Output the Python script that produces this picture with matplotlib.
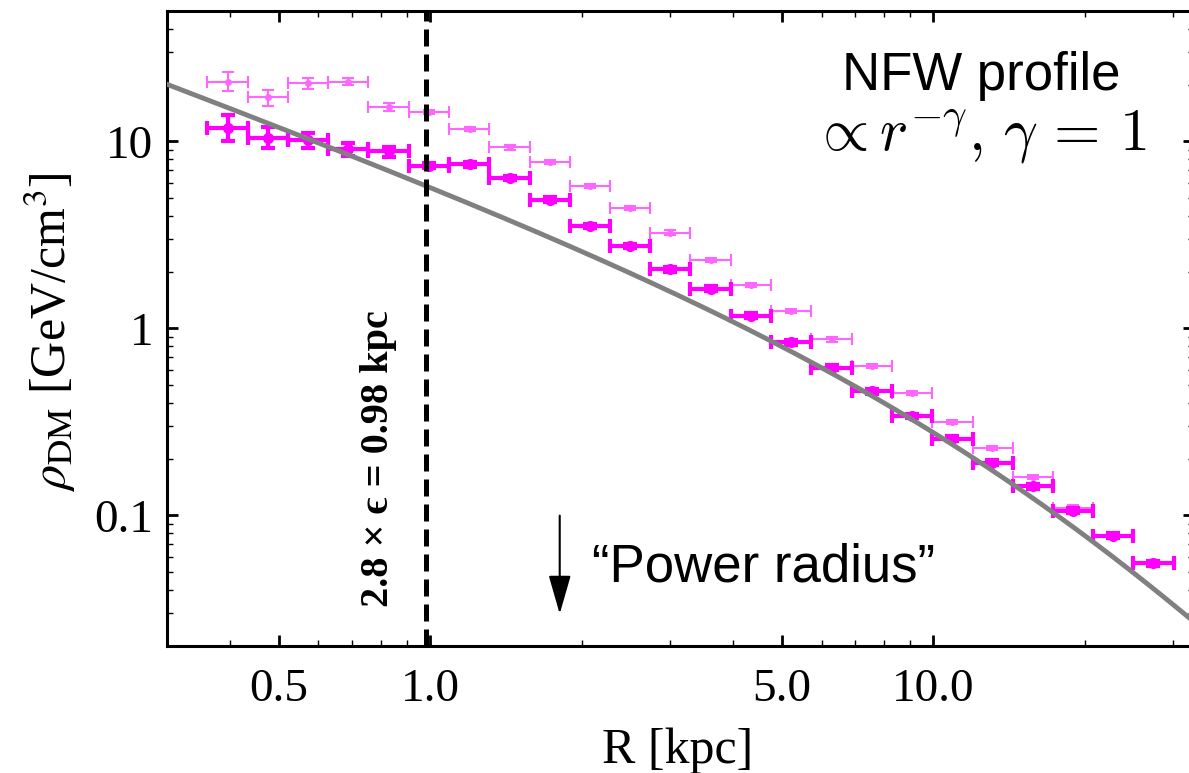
import numpy as np
import matplotlib
matplotlib.use("Agg")
import matplotlib.pyplot as plt
from matplotlib.ticker import FixedLocator, FixedFormatter, LogLocator, NullFormatter

# Radial bins [kpc]: edges shared by both density profiles, and bin centres
bin_edges = [0.361, 0.434, 0.522, 0.627, 0.754, 0.907, 1.09, 1.31, 1.58, 1.90,
             2.28, 2.74, 3.29, 3.96, 4.76, 5.73, 6.89, 8.28, 9.95, 12.0,
             14.4, 17.3, 20.8, 25.0, 30.1]
r_centers = [0.396, 0.476, 0.572, 0.688, 0.827, 0.994, 1.20, 1.44, 1.73, 2.08,
             2.50, 3.00, 3.61, 4.34, 5.22, 6.28, 7.55, 9.08, 10.9, 13.1,
             15.8, 19.0, 22.8, 27.4]

# Main density profile [GeV/cm^3] with lower / upper errors
rho_main = [11.8, 10.4, 10.2, 9.10, 8.84, 7.41, 7.55, 6.37, 4.87, 3.53,
            2.76, 2.07, 1.63, 1.17, 0.840, 0.617, 0.461, 0.340, 0.257, 0.191,
            0.143, 0.106, 0.0778, 0.0553]
rho_main_err_lo = [1.7, 1.18, 0.95, 0.72, 0.56, 0.22, 0.22, 0.19, 0.14, 0.10,
                   0.08, 0.06, 0.05, 0.035, 0.025, 0.018, 0.014, 0.010, 0.008, 0.006,
                   0.004, 0.003, 0.0023, 0.0017]
rho_main_err_hi = [2.1, 1.5, 0.9, 0.74, 0.53, 0.22, 0.22, 0.19, 0.14, 0.10,
                   0.08, 0.06, 0.05, 0.035, 0.025, 0.018, 0.014, 0.010, 0.008, 0.006,
                   0.004, 0.003, 0.0023, 0.0017]

# Second (lighter) density profile over the first 22 bins
rho_alt = [20.7, 17.2, 20.4, 20.8, 15.3, 14.4, 11.7, 9.29, 7.75, 5.79,
           4.40, 3.25, 2.32, 1.70, 1.24, 0.872, 0.630, 0.451, 0.315, 0.230,
           0.160, 0.110]
rho_alt_err_lo = [2.2, 1.8, 1.3, 0.9, 0.8, 0.4, 0.3, 0.25, 0.2, 0.15,
                  0.12, 0.09, 0.06, 0.045, 0.033, 0.023, 0.017, 0.012, 0.008, 0.006,
                  0.004, 0.003]
rho_alt_err_hi = [2.7, 1.7, 1.5, 0.9, 0.7, 0.4, 0.3, 0.25, 0.2, 0.15,
                  0.12, 0.09, 0.06, 0.045, 0.033, 0.023, 0.017, 0.012, 0.008, 0.006,
                  0.004, 0.003]

# NFW model parameters
nfw_rho_s = 0.312   # GeV/cm^3
nfw_r_s = 20.0      # kpc

softening_radius = 0.98   # kpc, 2.8 x epsilon
power_radius = 1.81       # kpc

x_ticks = [0.5, 1.0, 5.0, 10.0]
x_tick_labels = ["0.5", "1.0", "5.0", "10.0"]
y_ticks = [0.1, 1.0, 10.0]
y_tick_labels = ["0.1", "1", "10"]


def nfw(r):
    x = r / nfw_r_s
    return nfw_rho_s / (x * (1.0 + x) ** 2)


plt.rcParams["font.family"] = ["Liberation Serif", "DejaVu Serif"]

fig = plt.figure(figsize=(11.89, 7.73), dpi=100)
ax = fig.add_axes([0.1405, 0.1643, 0.8637, 0.8219])
ax.set_xscale("log")
ax.set_yscale("log")
ax.set_xlim(0.3, 33)
ax.set_ylim(0.02, 50)

edges = np.array(bin_edges)
rc = np.array(r_centers)
n_alt = len(rho_alt)

ax.errorbar(rc[:n_alt], rho_alt,
            xerr=[rc[:n_alt] - edges[:n_alt], edges[1:n_alt + 1] - rc[:n_alt]],
            yerr=[rho_alt_err_lo, rho_alt_err_hi],
            fmt="o", color="#ff66ff", ms=4, lw=1.5, capsize=4.5, capthick=1.5,
            zorder=2)
ax.errorbar(rc, rho_main,
            xerr=[rc - edges[:-1], edges[1:] - rc],
            yerr=[rho_main_err_lo, rho_main_err_hi],
            fmt="o", color="#ff00ff", ms=7, lw=3, capsize=5, capthick=3,
            zorder=3)

r_grid = np.logspace(np.log10(0.3), np.log10(33), 400)
ax.plot(r_grid, nfw(r_grid), color="#808080", lw=3.5, zorder=4)

ax.axvline(softening_radius, color="black", lw=3.6, dashes=(3.4, 1.6), zorder=5)

ax.text(0.79, 0.201, "2.8 \u00d7 \u03f5 = 0.98 kpc", rotation=90,
        ha="center", va="center", fontsize=29, fontweight="bold",
        family=["Liberation Serif", "DejaVu Serif"])

ax.annotate("", xy=(power_radius, 0.0297), xytext=(power_radius, 0.0996),
            arrowprops=dict(arrowstyle="-|>,head_length=0.8,head_width=0.23",
                            mutation_scale=30, color="black", lw=1.5,
                            shrinkA=0, shrinkB=0))
fig.text(0.4979, 0.2471, "\u201cPower radius\u201d", family=["Liberation Sans"],
         fontsize=38, ha="left", va="baseline")

fig.text(0.8255, 0.8836, "NFW profile", family=["Liberation Sans"],
         fontsize=38, ha="center", va="baseline")
fig.text(0.8238, 0.806, r"$\propto r^{-\gamma},\, \gamma\, =\, 1$", fontsize=43,
         math_fontfamily="cm", ha="center", va="baseline")

# Axes styling
for s in ax.spines.values():
    s.set_linewidth(2.2)
ax.xaxis.set_major_locator(FixedLocator(x_ticks))
ax.xaxis.set_major_formatter(FixedFormatter(x_tick_labels))
ax.xaxis.set_minor_locator(LogLocator(base=10, subs=np.arange(2, 10)))
ax.xaxis.set_minor_formatter(NullFormatter())
ax.yaxis.set_major_locator(FixedLocator(y_ticks))
ax.yaxis.set_major_formatter(FixedFormatter(y_tick_labels))
ax.yaxis.set_minor_locator(LogLocator(base=10, subs=np.arange(2, 10)))
ax.yaxis.set_minor_formatter(NullFormatter())
ax.tick_params(which="both", direction="in", top=True, right=True)
ax.tick_params(which="major", length=8, width=2, labelsize=34)
ax.tick_params(which="minor", length=4, width=1)
ax.tick_params(axis="x", which="major", pad=16)
ax.tick_params(axis="y", which="major", pad=10)

ax.set_xlabel("R [kpc]", fontsize=36, va="baseline")
ax.xaxis.set_label_coords(0.4976, -0.184)
ax.set_ylabel(r"$\rho_{\mathrm{DM}}$ [GeV/cm$^3$]", fontsize=36,
              math_fontfamily="stix", va="center")
ax.yaxis.set_label_coords(-0.1139, 0.494)

fig.savefig("out.png", dpi=100)
